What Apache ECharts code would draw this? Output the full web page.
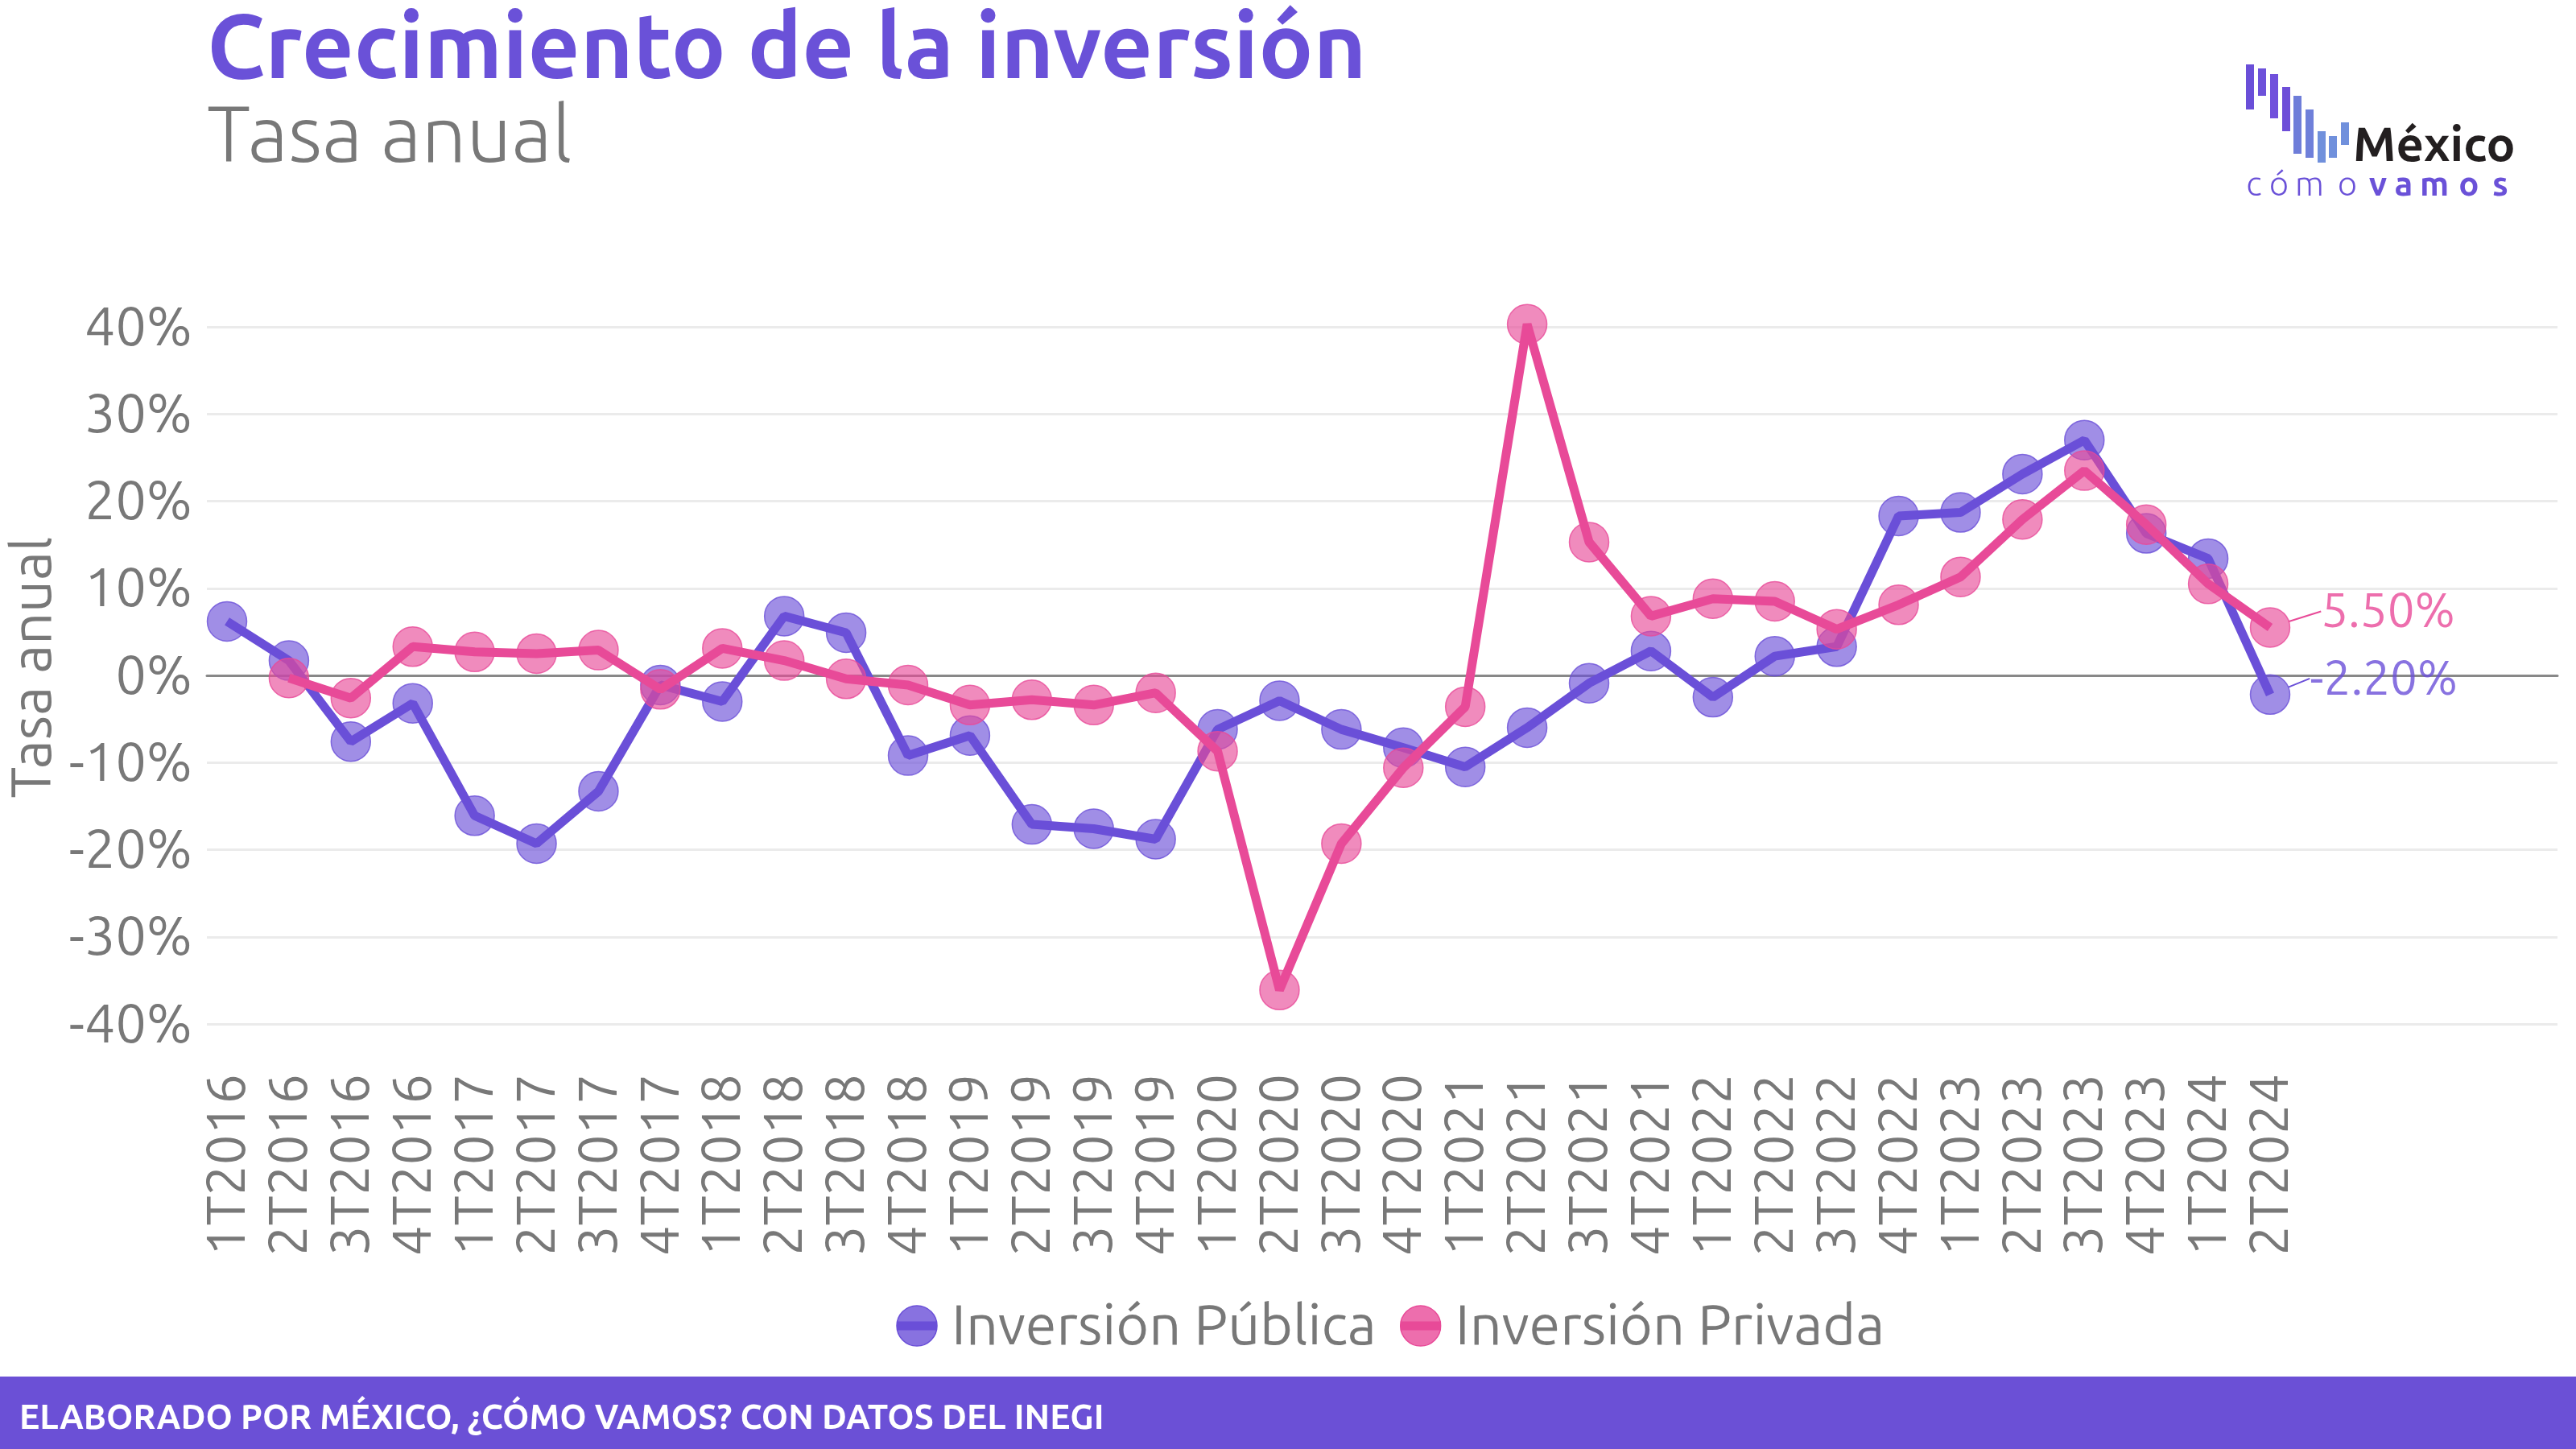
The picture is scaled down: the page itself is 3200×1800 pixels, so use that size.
<!DOCTYPE html>
<html>
<head>
<meta charset="utf-8">
<script src="https://cdn.jsdelivr.net/npm/echarts@6/dist/echarts.min.js"></script>
<style>
html,body{margin:0;padding:0;background:#fff;}
#c{width:3200px;height:1800px;}
</style>
</head>
<body>
<div id="c"></div>
<script>
const categories = ['1T2016','2T2016','3T2016','4T2016','1T2017','2T2017','3T2017','4T2017',
  '1T2018','2T2018','3T2018','4T2018','1T2019','2T2019','3T2019','4T2019',
  '1T2020','2T2020','3T2020','4T2020','1T2021','2T2021','3T2021','4T2021',
  '1T2022','2T2022','3T2022','4T2022','1T2023','2T2023','3T2023','4T2023',
  '1T2024','2T2024'];
const publica = [6.2, 1.7, -7.6, -3.2, -16.1, -19.3, -13.3, -1.1,
  -3.0, 6.8, 4.9, -9.2, -6.9, -17.1, -17.6, -18.8,
  -6.2, -2.9, -6.2, -8.3, -10.5, -6.0, -0.9, 2.8,
  -2.5, 2.2, 3.3, 18.3, 18.7, 23.1, 27.0, 16.3,
  13.4, -2.2];
const privada = [null, -0.3, -2.6, 3.3, 2.7, 2.5, 2.9, -1.6,
  3.1, 1.7, -0.4, -1.1, -3.4, -2.8, -3.4, -2.0,
  -8.7, -36.1, -19.3, -10.6, -3.6, 40.3, 15.3, 6.8,
  8.8, 8.5, 5.3, 8.1, 11.3, 17.9, 23.5, 17.3,
  10.5, 5.5];
const yTicks = [-40, -30, -20, -10, 0, 10, 20, 30, 40];
const seriesNames = ['Inversión Pública', 'Inversión Privada'];

const PURPLE = '#6a4fd8';
const PURPLE_PT = 'rgba(106,79,216,0.8)';
const PINK = '#e84a98';
const PINK_PT = 'rgba(232,74,152,0.8)';
const GRAY = '#787878';
const FONT = 'Ubuntu, Roboto, sans-serif';

const chart = echarts.init(document.getElementById('c'), null, {renderer: 'canvas'});

function withEndLabel(arr) {
  const last = arr.length - 1;
  return arr.map((v, i) => i === last ? {value: v, label: {show: true}, labelLine: {show: true}} : v);
}

function legendIcon(fill, line) {
  const svg = '<svg xmlns="http://www.w3.org/2000/svg" width="52" height="52" viewBox="0 0 52 52">' +
    '<circle cx="26" cy="26" r="25" fill="' + fill + '" stroke="' + line + '" stroke-width="1.5"/>' +
    '<rect x="1" y="20.5" width="50" height="11" fill="' + line + '"/></svg>';
  return 'image://data:image/svg+xml;charset=utf-8,' + encodeURIComponent(svg);
}

const logoBars = [
  {x: 2790, y: 80, h: 56, c: '#6a4fd8'},
  {x: 2805, y: 85, h: 34, c: '#6d52da'},
  {x: 2820, y: 92, h: 55, c: '#7050dc'},
  {x: 2835, y: 108, h: 55, c: '#6e4fd8'},
  {x: 2849, y: 119, h: 72, c: '#6e7dd9'},
  {x: 2864, y: 136, h: 60, c: '#6f80da'},
  {x: 2879, y: 163, h: 39, c: '#7090dc'},
  {x: 2893, y: 169, h: 27, c: '#7090dc'},
  {x: 2908, y: 152, h: 28, c: '#7090dc'}
];
const logoLetters = [
  {t: 'c', x: 2800, b: false}, {t: 'ó', x: 2831, b: false}, {t: 'm', x: 2869, b: false}, {t: 'o', x: 2916, b: false},
  {t: 'v', x: 2954, b: true}, {t: 'a', x: 2986, b: true}, {t: 'm', x: 3024, b: true}, {t: 'o', x: 3067, b: true}, {t: 's', x: 3106, b: true}
];

const graphics = [
  {type: 'text', left: 257, top: 3, style: {text: 'Crecimiento de la inversión', font: 'bold 113px ' + FONT, fill: '#6a51d8'}},
  {type: 'text', left: 257, top: 119, style: {text: 'Tasa anual', font: '300 99px ' + FONT, fill: GRAY}},
  {type: 'rect', shape: {x: 0, y: 1710, width: 3200, height: 90}, style: {fill: '#6b50d6'}},
  {type: 'text', x: 24, y: 1761, style: {text: 'ELABORADO POR MÉXICO, ¿CÓMO VAMOS? CON DATOS DEL INEGI', font: 'bold 42.5px ' + FONT, fill: '#ffffff', textVerticalAlign: 'middle'}},
  {type: 'text', x: 2923, y: 180, style: {text: 'México', font: 'bold 60px ' + FONT, fill: '#231f20', textVerticalAlign: 'middle'}}
];
logoBars.forEach(b => graphics.push({type: 'rect', shape: {x: b.x, y: b.y, width: 10, height: b.h}, style: {fill: b.c}}));
logoLetters.forEach(l => graphics.push({type: 'text', x: l.x, y: 229, style: {text: l.t, font: (l.b ? 'bold ' : '300 ') + '42px ' + FONT, fill: '#6a51d8', textAlign: 'center', textVerticalAlign: 'middle'}}));

const endLabel = {
  position: 'right',
  fontSize: 60,
  fontFamily: FONT,
  formatter: p => p.value.toFixed(2) + '%'
};

const option = {
  animation: false,
  backgroundColor: '#ffffff',
  graphic: graphics,
  grid: [
    {left: 257, right: 23, top: 406, bottom: 528, containLabel: false, outerBoundsMode: 'none'},
    {left: 282, right: 380, top: 406, bottom: 528, containLabel: false, outerBoundsMode: 'none'}
  ],
  xAxis: [
    {gridIndex: 0, type: 'value', min: 0, max: 1, axisLabel: {show: false}, axisTick: {show: false}, splitLine: {show: false},
      axisLine: {show: true, onZero: true, lineStyle: {color: '#888888', width: 3}}},
    {gridIndex: 1, type: 'category', data: categories, boundaryGap: false,
      axisLine: {show: false}, axisTick: {show: false}, splitLine: {show: false},
      axisLabel: {rotate: 90, interval: 0, margin: 62, fontSize: 67, fontFamily: FONT, color: GRAY}}
  ],
  yAxis: [
    {gridIndex: 0, type: 'value', min: yTicks[0], max: yTicks[yTicks.length - 1], interval: 10,
      axisLine: {show: false}, axisTick: {show: false},
      axisLabel: {formatter: '{value}%', fontSize: 68, fontFamily: FONT, color: GRAY, margin: 18},
      splitLine: {show: true, lineStyle: {color: '#ebebeb', width: 3}},
      name: 'Tasa anual', nameLocation: 'middle', nameRotate: 90, nameGap: 176,
      nameTextStyle: {fontSize: 70, fontFamily: FONT, color: GRAY, padding: [0, 0, 0, 20]}},
    {gridIndex: 1, type: 'value', min: yTicks[0], max: yTicks[yTicks.length - 1], show: false}
  ],
  legend: {
    left: 1108, top: 1607, itemWidth: 52, itemHeight: 52, itemGap: 29,
    data: [
      {name: seriesNames[0], icon: legendIcon('#8872e0', PURPLE)},
      {name: seriesNames[1], icon: legendIcon('#ed6ead', PINK)}
    ],
    textStyle: {fontSize: 70, fontFamily: FONT, color: GRAY, padding: [0, 0, 0, 12]}
  },
  series: [
    {name: seriesNames[0], type: 'line', xAxisIndex: 1, yAxisIndex: 1, data: publica, z: 3,
      showSymbol: false, symbol: 'circle', clip: false,
      lineStyle: {color: PURPLE, width: 11}, itemStyle: {color: PURPLE_PT}},
    {name: seriesNames[0], type: 'scatter', xAxisIndex: 1, yAxisIndex: 1, data: withEndLabel(publica), z: 2,
      symbol: 'circle', symbolSize: 49, clip: false,
      itemStyle: {color: PURPLE_PT, borderColor: PURPLE, borderWidth: 1.5},
      label: Object.assign({show: false, color: PURPLE, distance: 24}, endLabel),
      labelLine: {show: true, lineStyle: {color: PURPLE, width: 2}},
      labelLayout: {dy: -20}},
    {name: seriesNames[1], type: 'line', xAxisIndex: 1, yAxisIndex: 1, data: privada, z: 5,
      showSymbol: false, symbol: 'circle', clip: false,
      lineStyle: {color: PINK, width: 11}, itemStyle: {color: PINK_PT}},
    {name: seriesNames[1], type: 'scatter', xAxisIndex: 1, yAxisIndex: 1, data: withEndLabel(privada), z: 4,
      symbol: 'circle', symbolSize: 49, clip: false,
      itemStyle: {color: PINK_PT, borderColor: PINK, borderWidth: 1.5},
      label: Object.assign({show: false, color: PINK, distance: 38}, endLabel),
      labelLine: {show: true, lineStyle: {color: PINK, width: 2}},
      labelLayout: {dy: -20}}
  ]
};
chart.setOption(option);
</script>
</body>
</html>
